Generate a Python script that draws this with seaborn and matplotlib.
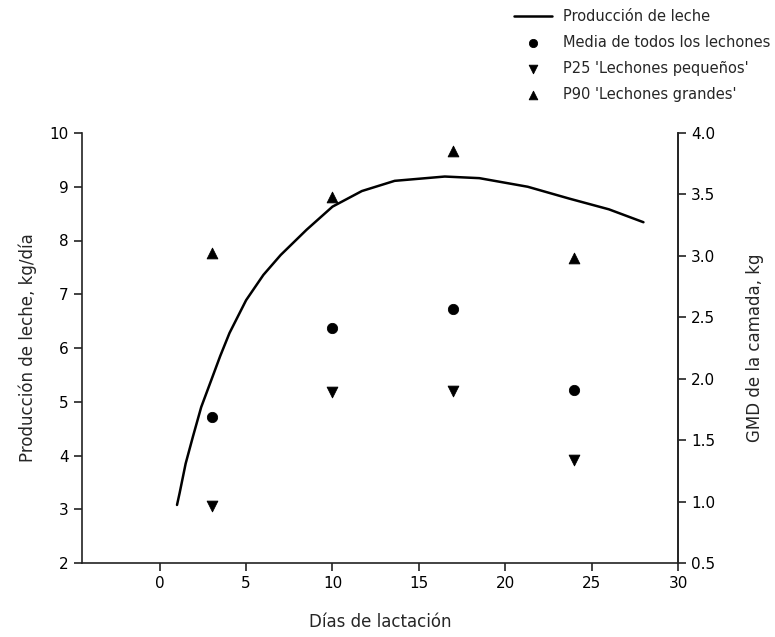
import numpy as np
import pandas as pd
import matplotlib
matplotlib.use("Agg")
import matplotlib.pyplot as plt
import seaborn as sns

# Curva de producción de leche (eje izquierdo)
dias_curva = [1.0, 1.15, 1.5, 1.92, 2.4, 2.98, 3.5, 4.04, 5.0, 6.0, 7.0, 8.5, 10.0, 11.7, 13.6, 16.5, 18.5, 21.3, 23.7, 26.0, 28.0]
leche = [3.08, 3.30, 3.85, 4.35, 4.90, 5.40, 5.85, 6.28, 6.89, 7.36, 7.73, 8.20, 8.63, 8.92, 9.11, 9.19, 9.16, 9.00, 8.78, 8.58, 8.34]

# GMD de la camada (eje derecho)
dias = [3, 10, 17, 24]
gmd_media = [1.69, 2.41, 2.57, 1.91]
gmd_p25 = [0.96, 1.89, 1.90, 1.34]
gmd_p90 = [3.02, 3.48, 3.85, 2.98]

xticks = [0, 5, 10, 15, 20, 25, 30]
yticks_izq = [2, 3, 4, 5, 6, 7, 8, 9, 10]
yticks_der = [0.5, 1.0, 1.5, 2.0, 2.5, 3.0, 3.5, 4.0]

sns.set_style("ticks")
plt.rcParams['font.family'] = ['DejaVu Sans']

fig = plt.figure(figsize=(7.75, 6.37), dpi=100)
ax = fig.add_axes([82/775, 1-563/637, (678-82)/775, (563-133)/637])
ax2 = ax.twinx()

sns.lineplot(x=dias_curva, y=leche, ax=ax, color='black', linewidth=1.8,
             label='Producción de leche', legend=False)
sns.scatterplot(x=dias, y=gmd_media, ax=ax2, marker='o', s=55, color='black',
                edgecolor='black', label='Media de todos los lechones', legend=False)
sns.scatterplot(x=dias, y=gmd_p25, ax=ax2, marker='v', s=60, color='black',
                edgecolor='black', label="P25 'Lechones pequeños'", legend=False)
sns.scatterplot(x=dias, y=gmd_p90, ax=ax2, marker='^', s=60, color='black',
                edgecolor='black', label="P90 'Lechones grandes'", legend=False)

ax.set_xlim(-4.5, 30)
ax.set_ylim(2, 10)
ax2.set_ylim(0.5, 4.0)
ax.set_xticks(xticks)
ax.set_yticks(yticks_izq)
ax2.set_yticks(yticks_der)
ax2.set_yticklabels([f"{v:.1f}" for v in yticks_der])

for a in (ax, ax2):
    a.spines['top'].set_visible(False)
    for s in a.spines.values():
        s.set_linewidth(1.2)
        s.set_color('#222222')
    a.tick_params(labelsize=11, length=6, width=1.2, colors='#222222', labelcolor='black')
ax2.spines['left'].set_visible(False)
ax2.spines['bottom'].set_visible(False)

ax.set_xlabel('Días de lactación', fontsize=12, labelpad=16)
ax.set_ylabel('Producción de leche, kg/día', fontsize=12, labelpad=9)
ax2.set_ylabel('GMD de la camada, kg', fontsize=12, labelpad=22, rotation=90)

h1, l1 = ax.get_legend_handles_labels()
h2, l2 = ax2.get_legend_handles_labels()
fig.legend(h1 + h2, l1 + l2, loc='upper left', bbox_to_anchor=(505/775, 1.0),
           frameon=False, fontsize=10.5, handlelength=2.6, labelspacing=0.75,
           borderaxespad=0.2, markerscale=0.8)

fig.savefig('out.png', dpi=100)
